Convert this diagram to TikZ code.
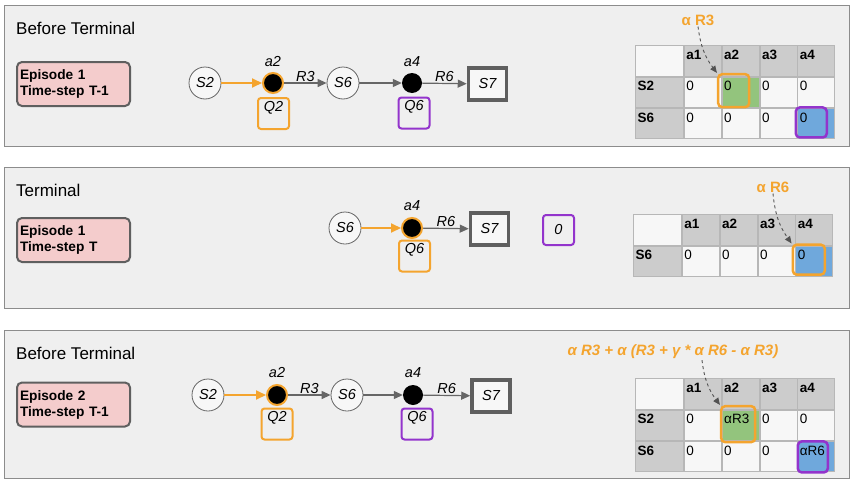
\documentclass[tikz,border=0pt]{standalone}
\usepackage{fontspec}
\setmainfont{Liberation Sans}
\usepackage{tikz}
\usetikzlibrary{calc,matrix,arrows.meta}
\definecolor{pfill}{HTML}{EFEFEF}
\definecolor{pline}{HTML}{8C8C8C}
\definecolor{epink}{HTML}{F4CCCC}
\definecolor{eline}{HTML}{5F5F5F}
\definecolor{sorange}{HTML}{F4A42E}
\definecolor{spurple}{HTML}{9334CC}
\definecolor{sgrey}{HTML}{666666}
\definecolor{hgrey}{HTML}{CCCCCC}
\definecolor{cgrid}{HTML}{B7B7B7}
\definecolor{sgreen}{HTML}{93C47D}
\definecolor{sblue}{HTML}{6FA8DC}
\definecolor{cwhite}{HTML}{F7F7F7}

\begin{document}
\begin{tikzpicture}[x=1pt, y=-1pt,
    PNL/.style={rectangle, draw=pline, fill=pfill, line width=1.3pt, anchor=north west, minimum width=845pt, inner sep=0pt},
    TTL/.style={anchor=west, inner sep=0pt, font=\fontsize{17}{20}\selectfont},
    EPI/.style={rectangle, rounded corners=5pt, draw=eline, fill=epink, line width=2pt, minimum width=113pt, minimum height=44pt, text width=107pt, align=left, inner xsep=3pt, font=\fontsize{13.7}{16}\selectfont\bfseries},
    ST/.style={circle, draw=sgrey, fill=cwhite, minimum size=32pt, inner sep=0pt, line width=0.8pt, font=\fontsize{14.5}{16}\selectfont\itshape},
    ACT/.style={circle, fill=black, minimum size=20pt, inner sep=0pt},
    SEL/.style={ACT, draw=sorange, line width=2pt},
    TRM/.style={rectangle, draw=eline, fill=cwhite, line width=3.5pt, minimum width=38pt, minimum height=32pt, font=\fontsize{14.5}{16}\selectfont\itshape},
    QB/.style={rectangle, rounded corners=3pt, line width=2pt, minimum width=31pt, inner sep=0pt, text height=13pt, text depth=18pt, font=\fontsize{14.5}{16}\selectfont\itshape},
    ZB/.style={rectangle, rounded corners=3pt, line width=2pt, draw=spurple, minimum width=31pt, minimum height=30pt, font=\fontsize{14.5}{16}\selectfont\itshape},
    LB/.style={inner sep=1pt, font=\fontsize{14.5}{16}\selectfont\itshape},
    HL/.style={rectangle, rounded corners=4pt, line width=2.5pt},
    OL/.style={inner sep=1pt, text=sorange, font=\fontsize{15}{18}\selectfont\bfseries},
    GA/.style={draw=sgrey, line width=1.2pt, -{Triangle[length=9pt,width=8pt]}},
    OA/.style={draw=sorange, line width=2pt, -{Triangle[length=10pt,width=9pt]}},
    DA/.style={draw=sgrey!80!black, line width=0.9pt, dashed, -{Triangle[length=7pt,width=6pt]}},
    TB/.style={matrix of nodes, nodes in empty cells, anchor=north west, inner sep=0pt, column sep=0pt, row sep=0pt,
        nodes={rectangle, draw=cgrid, line width=0.8pt, fill=cwhite, outer sep=0pt, inner xsep=2pt, inner ysep=3pt, text width=33pt, align=left, text height=11pt, text depth=13.5pt, font=\fontsize{13.5}{15}\selectfont},
        row 1/.style={nodes={fill=hgrey, font=\fontsize{13.5}{15}\selectfont\bfseries}},
        column 1/.style={nodes={fill=hgrey, text width=44pt, font=\fontsize{13.5}{15}\selectfont\bfseries}},
        row 1 column 1/.style={nodes={fill=cwhite}}}
    ]
    \useasboundingbox (0,0) rectangle (852,482);

    \node[PNL, minimum height=141pt] (P1) at (4,5) {};
    \node[PNL, minimum height=141pt] (P2) at (4,167) {};
    \node[PNL, minimum height=148pt] (P3) at (4,330) {};
    \node[TTL] (T1) at ($(P1.north west)+(12,23.5)$) {Before Terminal};
    \node[TTL] (T2) at ($(P2.north west)+(12,23)$) {Terminal};
    \node[TTL] (T3) at ($(P3.north west)+(12,23.5)$) {Before Terminal};
    \node[EPI] (E1) at (73.5,84) {Episode 1\\Time-step T-1};
    \node[EPI] (E2) at (73.5,240) {Episode 1\\Time-step T};
    \node[EPI] (E3) at (73.5,404.5) {Episode 2\\Time-step T-1};

    \node[ST] (S2a) at (205,83) {S2};
    \node[SEL] (A2a) at (273,83) {};
    \node[LB] (la2a) at ($(A2a)+(0,-21)$) {a2};
    \node[QB, draw=sorange] (Q2a) at ($(A2a)+(0.5,30.5)$) {Q2};
    \node[ST] (S6a) at (343,83) {S6};
    \node[ACT] (A4a) at (412,83) {};
    \node[LB] (la4a) at ($(A4a)+(0,-21)$) {a4};
    \node[QB, draw=spurple] (Q6a) at ($(A4a)+(2,30)$) {Q6};
    \node[TRM] (S7a) at (487.5,84) {S7};
    \draw[OA] (S2a) -- (A2a);
    \draw[GA] (A2a) -- node[LB, above] (r3a) {R3} (S6a);
    \draw[GA] (S6a) -- (A4a);
    \draw[GA] (A4a) -- node[LB, above] (r6a) {R6} (S7a);

    \node[ST] (S6b) at (345,228) {S6};
    \node[SEL] (A4b) at (412,228) {};
    \node[LB] (la4b) at ($(A4b)+(0,-22)$) {a4};
    \node[QB, draw=sorange] (Q6b) at ($(A4b)+(2.5,28)$) {Q6};
    \node[TRM] (S7b) at (489.5,229) {S7};
    \node[ZB] (Zb) at (558.5,230) {0};
    \draw[OA] (S6b) -- (A4b);
    \draw[GA] (A4b) -- node[LB, above] (r6b) {R6} (S7b);

    \node[ST] (S2c) at (208,395) {S2};
    \node[SEL] (A2c) at (277,395) {};
    \node[LB] (la2c) at ($(A2c)+(0,-22)$) {a2};
    \node[QB, draw=sorange] (Q2c) at ($(A2c)+(0,29)$) {Q2};
    \node[ST] (S6c) at (347,395) {S6};
    \node[ACT] (A4c) at (413,395) {};
    \node[LB] (la4c) at ($(A4c)+(0,-22)$) {a4};
    \node[QB, draw=spurple] (Q6c) at ($(A4c)+(4,29)$) {Q6};
    \node[TRM] (S7c) at (491,396) {S7};
    \draw[OA] (S2c) -- (A2c);
    \draw[GA] (A2c) -- node[LB, above] (r3c) {R3} (S6c);
    \draw[GA] (S6c) -- (A4c);
    \draw[GA] (A4c) -- node[LB, above] (r6c) {R6} (S7c);

    \matrix[TB] (t1) at (635,45) {
        & a1 & a2 & a3 & a4 \\
        S2 & 0 & |[fill=sgreen]| 0 & 0 & 0 \\
        S6 & 0 & 0 & 0 & |[fill=sblue]| 0 \\
    };
    \node[HL, draw=sorange, minimum width=31pt, minimum height=33pt] (h1) at ($(t1-2-3.center)+(-7,-1.5)$) {};
    \node[HL, draw=spurple, minimum width=31pt, minimum height=30pt] (h2) at ($(t1-3-5.center)+(-5,-1)$) {};
    \node[OL] (al1) at (698,20) {α R3};
    \draw[DA] (al1.south) to[bend right=15] (h1.north west);

    \matrix[TB] (t2) at (633,214) {
        & a1 & a2 & a3 & a4 \\
        S6 & 0 & 0 & 0 & |[fill=sblue]| 0 \\
    };
    \node[HL, draw=sorange, minimum width=32pt, minimum height=30pt] (h3) at ($(t2-2-5.center)+(-5.5,-1.5)$) {};
    \node[OL] (al2) at (773,187) {α R6};
    \draw[DA] (al2.south) to[bend right=15] (h3.north west);

    \matrix[TB] (t3) at (635,378) {
        & a1 & a2 & a3 & a4 \\
        S2 & 0 & |[fill=sgreen]| αR3 & 0 & 0 \\
        S6 & 0 & 0 & 0 & |[fill=sblue]| αR6 \\
    };
    \node[HL, draw=sorange, minimum width=34pt, minimum height=36pt] (h4) at ($(t3-2-3.center)+(-2.5,-1)$) {};
    \node[HL, draw=spurple, minimum width=30pt, minimum height=31pt] (h5) at ($(t3-3-5.center)+(-3.5,0.5)$) {};
    \node[OL, font=\fontsize{15}{18}\selectfont\bfseries\itshape] (al3) at (673,352) {α R3 + α (R3 + γ * α R6 - α R3)};
    \draw[DA] ($(al3.south)+(29,0)$) to[bend right=15] (h4.north west);
\end{tikzpicture}
\end{document}
